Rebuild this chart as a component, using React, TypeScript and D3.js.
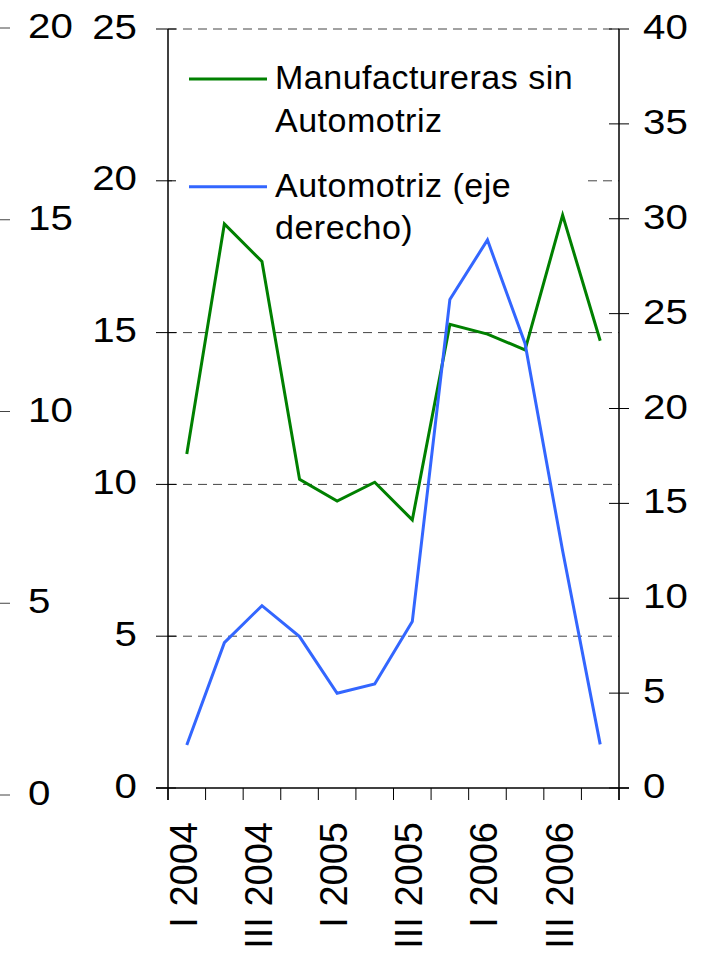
import React from "react";
import * as d3 from "d3";

const quarters = [
  "I 2004", "II 2004", "III 2004", "IV 2004",
  "I 2005", "II 2005", "III 2005", "IV 2005",
  "I 2006", "II 2006", "III 2006", "IV 2006",
];
const manufacturerasSinAuto = [11.0, 18.58, 17.34, 10.17, 9.45, 10.07, 8.83, 15.27, 14.95, 14.43, 18.87, 14.73];
const automotriz = [2.27, 7.66, 9.61, 7.98, 4.99, 5.48, 8.77, 25.75, 28.88, 23.43, 12.5, 2.3];
const leftTicks = [0, 5, 10, 15, 20, 25];
const rightTicks = [0, 5, 10, 15, 20, 25, 30, 35, 40];
const farLeftTicks = [0, 5, 10, 15, 20];
const gridValues = [5, 10, 15, 20, 25];
const legendItems = [
  { lines: ["Manufactureras sin", "Automotriz"], color: "#008000" },
  { lines: ["Automotriz (eje", "derecho)"], color: "#3366ff" },
];

const FONT = "'Liberation Sans', Arial, sans-serif";

export default function App() {
  const x = d3.scaleBand<string>().domain(quarters).range([168, 619]).padding(0);
  const bw = x.bandwidth();
  const cx = (q: string) => (x(q) as number) + bw / 2;
  const yL = d3.scaleLinear().domain([0, 25]).range([788, 29]);
  const yR = d3.scaleLinear().domain([0, 40]).range([788, 29]);
  const yFar = d3.scaleLinear().domain([0, 20]).range([795, 28]);

  const lineL = d3.line<number>().x((_, i) => cx(quarters[i])).y((d) => yL(d));
  const lineR = d3.line<number>().x((_, i) => cx(quarters[i])).y((d) => yR(d));

  const boundaries = d3.range(quarters.length + 1).map((k) => 168 + k * bw);

  return (
    <svg
      width={702}
      height={953}
      style={{ position: "absolute", left: 0, top: 0, background: "#fff" }}
      fontFamily={FONT}
    >
      <rect x={0} y={0} width={702} height={953} fill="#fff" />

      {/* far-left partial axis */}
      {farLeftTicks.map((t) => (
        <g key={"fl" + t}>
          <line x1={0} x2={10} y1={yFar(t)} y2={yFar(t)} stroke="#444" strokeWidth={1} />
          <text
            transform={`translate(28,${yFar(t) + 10}) scale(1.15,1)`}
            fontSize={35}
            textAnchor="start"
            fill="#000"
          >
            {t}
          </text>
        </g>
      ))}

      {/* gridlines */}
      {gridValues.map((g) => (
        <line
          key={"g" + g}
          x1={168}
          x2={619}
          y1={yL(g)}
          y2={yL(g)}
          stroke="#444"
          strokeWidth={1}
          strokeDasharray="9,6"
        />
      ))}

      {/* legend background */}
      <rect x={172} y={34} width={411} height={182} fill="#fff" />

      {/* left axis */}
      <line x1={168} x2={168} y1={29} y2={800} stroke="#000" strokeWidth={1.5} />
      {leftTicks.map((t) => (
        <g key={"l" + t}>
          <line x1={156} x2={176} y1={yL(t)} y2={yL(t)} stroke="#000" strokeWidth={1} />
          <text
            transform={`translate(137,${yL(t) + 9.5}) scale(1.15,1)`}
            fontSize={35}
            textAnchor="end"
            fill="#000"
          >
            {t}
          </text>
        </g>
      ))}

      {/* right axis */}
      <line x1={619} x2={619} y1={29} y2={800} stroke="#000" strokeWidth={1.5} />
      {rightTicks.map((t) => (
        <g key={"r" + t}>
          <line x1={609} x2={629} y1={yR(t)} y2={yR(t)} stroke="#000" strokeWidth={1} />
          <text
            transform={`translate(643,${yR(t) + 10}) scale(1.15,1)`}
            fontSize={35}
            textAnchor="start"
            fill="#000"
          >
            {t}
          </text>
        </g>
      ))}

      {/* x axis */}
      <line x1={156} x2={629} y1={788} y2={788} stroke="#000" strokeWidth={1.5} />
      {boundaries.map((b, k) => (
        <line key={"xt" + k} x1={b} x2={b} y1={788} y2={800} stroke="#000" strokeWidth={1} />
      ))}
      {quarters.map((q, i) =>
        i % 2 === 0 ? (
          <text
            key={"xl" + q}
            transform={`translate(${cx(q) + 10},822) rotate(-90)`}
            fontSize={38}
            textAnchor="end"
            fill="#000"
          >
            {q}
          </text>
        ) : null
      )}

      {/* series */}
      <path d={lineL(manufacturerasSinAuto) || ""} fill="none" stroke="#008000" strokeWidth={3} strokeLinejoin="miter" />
      <path d={lineR(automotriz) || ""} fill="none" stroke="#3366ff" strokeWidth={3} strokeLinejoin="miter" />

      {/* legend */}
      {legendItems.map((it, i) => {
        const base = i === 0 ? 89 : 196.7;
        const lineY = i === 0 ? 79 : 186.7;
        return (
          <g key={"lg" + i}>
            <line x1={189} x2={267} y1={lineY} y2={lineY} stroke={it.color} strokeWidth={3} />
            {it.lines.map((s, j) => (
              <text
                key={j}
                x={275}
                y={base + j * 42.5}
                fontSize={34}
                letterSpacing={0.5}
                fill="#000"
              >
                {s}
              </text>
            ))}
          </g>
        );
      })}
    </svg>
  );
}
